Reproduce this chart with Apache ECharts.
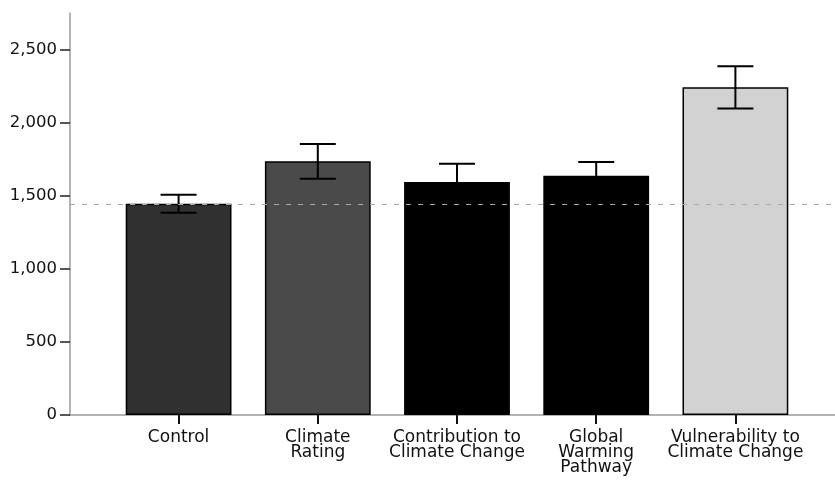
<!DOCTYPE html>
<html>
<head>
<meta charset="utf-8">
<script src="https://cdn.jsdelivr.net/npm/echarts@6/dist/echarts.min.js"></script>
<style>
  html, body { margin: 0; padding: 0; background: #fff; }
  #chart { width: 835px; height: 481px; }
</style>
</head>
<body>
<div id="chart"></div>
<script>
// Messaging conditions and their mean values with error ranges
const categories = [
  'Control',
  'Climate\nRating',
  'Contribution to\nClimate Change',
  'Global\nWarming\nPathway',
  'Vulnerability to\nClimate Change'
];
const means = [1445, 1735, 1594, 1637, 2242];
const errLow = [1383, 1616, 1469, 1543, 2096];
const errHigh = [1507, 1854, 1719, 1731, 2386];
const barColors = ['#303030', '#4a4a4a', '#000000', '#000000', '#d2d2d2'];
const yTicks = [0, 500, 1000, 1500, 2000, 2500];
const referenceValue = 1445;

const Y_MAX = 2750;
const TOP = 13;
const BOTTOM = 66;

const chart = echarts.init(document.getElementById('chart'), null, { renderer: 'canvas' });

const fmt = v => v.toLocaleString('en-US');

chart.setOption({
  animation: false,
  backgroundColor: '#ffffff',
  grid: [
    // frame grid: carries the y axis, the baseline and the reference line
    { left: 70, right: 0, top: TOP, bottom: BOTTOM, containLabel: false },
    // bar grid: category slots for the five conditions
    { left: 109, right: 30, top: TOP, bottom: BOTTOM, containLabel: false }
  ],
  xAxis: [
    {
      gridIndex: 0, type: 'value', min: 0, max: 1,
      axisLine: { show: true, onZero: false, lineStyle: { color: '#9a9a9a', width: 1.5 } },
      axisTick: { show: false }, axisLabel: { show: false }, splitLine: { show: false }
    },
    {
      gridIndex: 1, type: 'category', data: categories,
      axisLine: { show: false },
      axisTick: { show: true, alignWithLabel: true, length: 9, lineStyle: { color: '#111', width: 2 } },
      axisLabel: {
        margin: 15, fontFamily: 'DejaVu Sans', fontSize: 17, lineHeight: 15,
        color: '#111', interval: 0
      },
      splitLine: { show: false }
    }
  ],
  yAxis: [
    {
      gridIndex: 0, type: 'value', min: 0, max: Y_MAX,
      axisLine: { show: true, lineStyle: { color: '#9a9a9a', width: 1.5 } },
      axisTick: { show: true, length: 10, customValues: yTicks, lineStyle: { color: '#222', width: 1.5 } },
      axisLabel: {
        margin: 13, customValues: yTicks, formatter: fmt,
        fontFamily: 'DejaVu Sans', fontSize: 16.5, color: '#111'
      },
      splitLine: { show: false }
    },
    {
      gridIndex: 1, type: 'value', min: 0, max: Y_MAX, show: false,
      splitLine: { show: false }
    }
  ],
  series: [
    {
      type: 'bar',
      xAxisIndex: 1, yAxisIndex: 1,
      barCategoryGap: '24%',
      data: means.map((v, i) => ({
        value: v,
        itemStyle: { color: barColors[i], borderColor: '#000', borderWidth: 1.5 }
      })),
      z: 2
    },
    {
      // error bars with caps
      type: 'custom',
      xAxisIndex: 1, yAxisIndex: 1,
      data: means.map((v, i) => [i, errLow[i], errHigh[i]]),
      renderItem: (params, api) => {
        const lo = api.coord([api.value(0), api.value(1)]);
        const hi = api.coord([api.value(0), api.value(2)]);
        const half = 18;
        const style = { stroke: '#000', lineWidth: 2 };
        return {
          type: 'group',
          children: [
            { type: 'line', shape: { x1: hi[0], y1: hi[1], x2: lo[0], y2: lo[1] }, style },
            { type: 'line', shape: { x1: hi[0] - half, y1: hi[1], x2: hi[0] + half, y2: hi[1] }, style },
            { type: 'line', shape: { x1: lo[0] - half, y1: lo[1], x2: lo[0] + half, y2: lo[1] }, style }
          ]
        };
      },
      z: 4
    },
    {
      // dashed reference line at the control mean
      type: 'line',
      xAxisIndex: 0, yAxisIndex: 0,
      data: [],
      markLine: {
        silent: true, symbol: 'none', label: { show: false },
        lineStyle: { color: '#a8a8a8', type: [5, 7], width: 1.2 },
        data: [{ yAxis: referenceValue }]
      },
      z: 5
    }
  ]
});
</script>
</body>
</html>
